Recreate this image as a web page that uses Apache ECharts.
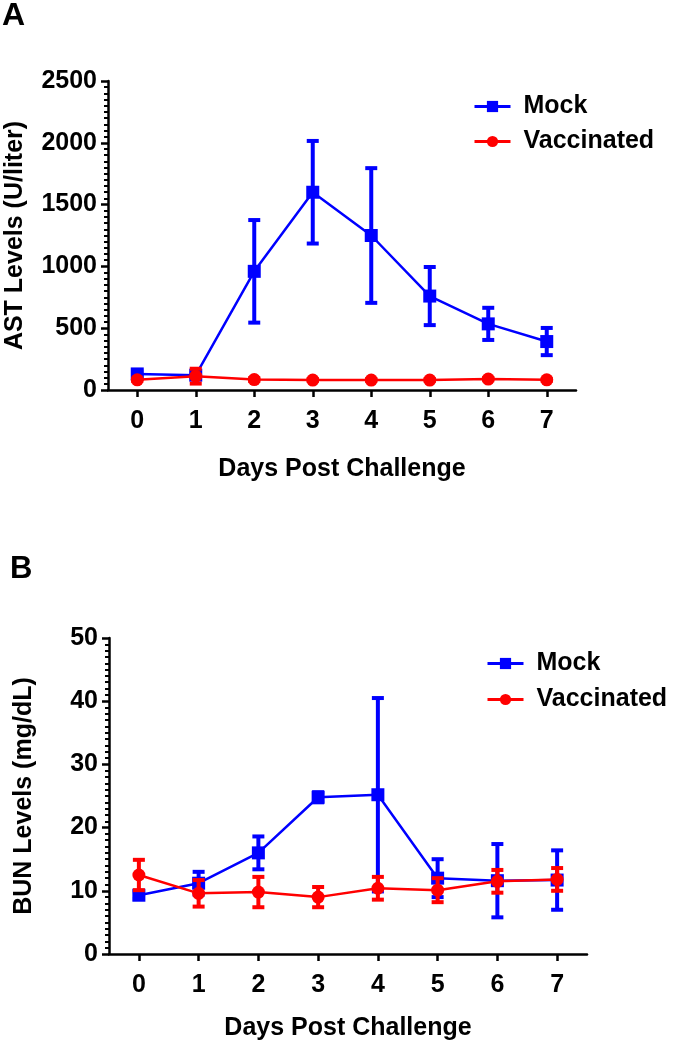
<!DOCTYPE html>
<html>
<head>
<meta charset="utf-8">
<script src="https://cdn.jsdelivr.net/npm/echarts@6/dist/echarts.min.js"></script>
<style>
    html, body { margin: 0; padding: 0; background: #fff; }
    #main { width: 675px; height: 1043px; }
</style>
</head>
<body>
<div id="main"></div>
<script>
// days after challenge (x axis)
var days = ['0', '1', '2', '3', '4', '5', '6', '7'];

// panel A - AST (U/liter), mean and error half-width
var mockAst = [130, 120, 960, 1600, 1250, 760, 535, 392];
var mockAstErr = [20, 15, 415, 415, 545, 235, 130, 110];
var vacAst = [82, 112, 84, 80, 80, 80, 88, 82];
var vacAstErr = [10, 60, 12, 8, 8, 8, 10, 8];

// panel B - BUN (mg/dL)
var mockBun = [9.3, 11.2, 16.0, 24.8, 25.2, 12.0, 11.6, 11.7];
var mockBunErr = [0.6, 1.8, 2.6, 0.8, 15.3, 3.0, 5.8, 4.7];
var vacBun = [12.5, 9.6, 9.8, 9.0, 10.4, 10.1, 11.5, 11.8];
var vacBunErr = [2.4, 2.1, 2.4, 1.6, 1.8, 1.9, 1.8, 1.8];

var BLUE = '#0000ff';
var RED = '#ff0000';
var FONT = 'Arial, Liberation Sans, sans-serif';

var chart = echarts.init(document.getElementById('main'), null, {renderer: 'canvas'});

// [index, mean, err] rows for the error bar series
function errRows(mean, err) {
    return mean.map(function (v, i) { return [i, v, err[i]]; });
}

function errorBar(color) {
    return function (params, api) {
        var x = api.value(0);
        var m = api.value(1);
        var e = api.value(2);
        var top = api.coord([x, m + e]);
        var bot = api.coord([x, m - e]);
        var hw = 6;
        var st = {stroke: color, lineWidth: 4};
        return {
            type: 'group',
            children: [
                {type: 'line', shape: {x1: top[0], y1: top[1], x2: bot[0], y2: bot[1]}, style: st},
                {type: 'line', shape: {x1: top[0] - hw, y1: top[1], x2: top[0] + hw, y2: top[1]}, style: st},
                {type: 'line', shape: {x1: bot[0] - hw, y1: bot[1], x2: bot[0] + hw, y2: bot[1]}, style: st}
            ]
        };
    };
}

var axisLine = {show: true, lineStyle: {color: '#000', width: 2.5}};
var labelStyle = {color: '#000', fontFamily: FONT, fontWeight: 'bold', fontSize: 25};
var nameStyle = {color: '#000', fontFamily: FONT, fontWeight: 'bold', fontSize: 25};

function xAxisFor(gridIndex, gap) {
    return {
        type: 'category',
        gridIndex: gridIndex,
        data: days,
        boundaryGap: true,
        name: 'Days Post Challenge',
        nameLocation: 'middle',
        nameGap: gap,
        nameTextStyle: nameStyle,
        axisLine: axisLine,
        axisTick: {show: true, alignWithLabel: true, length: 7, lineStyle: {color: '#000', width: 2.5}},
        axisLabel: Object.assign({margin: 19}, labelStyle),
        splitLine: {show: false}
    };
}

function yAxisFor(gridIndex, max, interval, name, gap) {
    return {
        type: 'value',
        gridIndex: gridIndex,
        min: 0,
        max: max,
        interval: interval,
        name: name,
        nameLocation: 'middle',
        nameGap: gap,
        nameTextStyle: nameStyle,
        axisLine: axisLine,
        axisTick: {show: true, length: 7, lineStyle: {color: '#000', width: 2.5}},
        minorTick: {show: true, splitNumber: 10, length: 4, lineStyle: {color: '#000', width: 2}},
        axisLabel: Object.assign({margin: 11, formatter: function (v) { return String(v); }}, labelStyle),
        splitLine: {show: false},
        minorSplitLine: {show: false}
    };
}

function lineSeries(name, data, color, symbol, idx, z) {
    return {
        name: name,
        type: 'line',
        xAxisIndex: idx,
        yAxisIndex: idx,
        data: data,
        symbol: symbol,
        symbolSize: 13,
        lineStyle: {color: color, width: 2.5},
        itemStyle: {color: color},
        z: z,
        animation: false
    };
}

function errSeries(name, rows, color, idx, z) {
    return {
        name: name,
        type: 'custom',
        xAxisIndex: idx,
        yAxisIndex: idx,
        data: rows,
        encode: {x: 0, y: 1},
        renderItem: errorBar(color),
        z: z,
        silent: true,
        animation: false
    };
}

var legendText = {color: '#000', fontFamily: FONT, fontWeight: 'bold', fontSize: 25, padding: [0, 0, 0, 8]};

var option = {
    backgroundColor: '#fff',
    animation: false,
    graphic: [
        {type: 'text', left: 2, top: 0, style: {text: 'A', font: 'bold 32px Arial, Liberation Sans, sans-serif', fill: '#000'}},
        {type: 'text', left: 10, top: 554, style: {text: 'B', font: 'bold 31px Arial, Liberation Sans, sans-serif', fill: '#000'}}
    ],
    legend: [
        {
            left: 468, top: 89, orient: 'vertical', itemWidth: 36, itemHeight: 14, itemGap: 10,
            data: ['Mock', 'Vaccinated'], textStyle: legendText, selectedMode: false,
            lineStyle: {width: 3}
        },
        {
            left: 481, top: 646, orient: 'vertical', itemWidth: 36, itemHeight: 14, itemGap: 11,
            data: ['Mock', 'Vaccinated'], textStyle: legendText, selectedMode: false,
            lineStyle: {width: 3}
        }
    ],
    grid: [
        {left: 108, top: 81, width: 468, height: 309, outerBoundsMode: 'none'},
        {left: 109, top: 638, width: 478, height: 316, outerBoundsMode: 'none'}
    ],
    xAxis: [xAxisFor(0, 67), xAxisFor(1, 62)],
    yAxis: [
        yAxisFor(0, 2500, 500, 'AST Levels (U/liter)', 80),
        yAxisFor(1, 50, 10, 'BUN Levels (mg/dL)', 72)
    ],
    series: [
        errSeries('Mock error', errRows(mockAst, mockAstErr), BLUE, 0, 2),
        lineSeries('Mock', mockAst, BLUE, 'rect', 0, 3),
        errSeries('Vaccinated error', errRows(vacAst, vacAstErr), RED, 0, 4),
        lineSeries('Vaccinated', vacAst, RED, 'circle', 0, 5),

        errSeries('Mock error', errRows(mockBun, mockBunErr), BLUE, 1, 2),
        lineSeries('Mock', mockBun, BLUE, 'rect', 1, 3),
        errSeries('Vaccinated error', errRows(vacBun, vacBunErr), RED, 1, 4),
        lineSeries('Vaccinated', vacBun, RED, 'circle', 1, 5)
    ]
};

chart.setOption(option);
</script>
</body>
</html>
